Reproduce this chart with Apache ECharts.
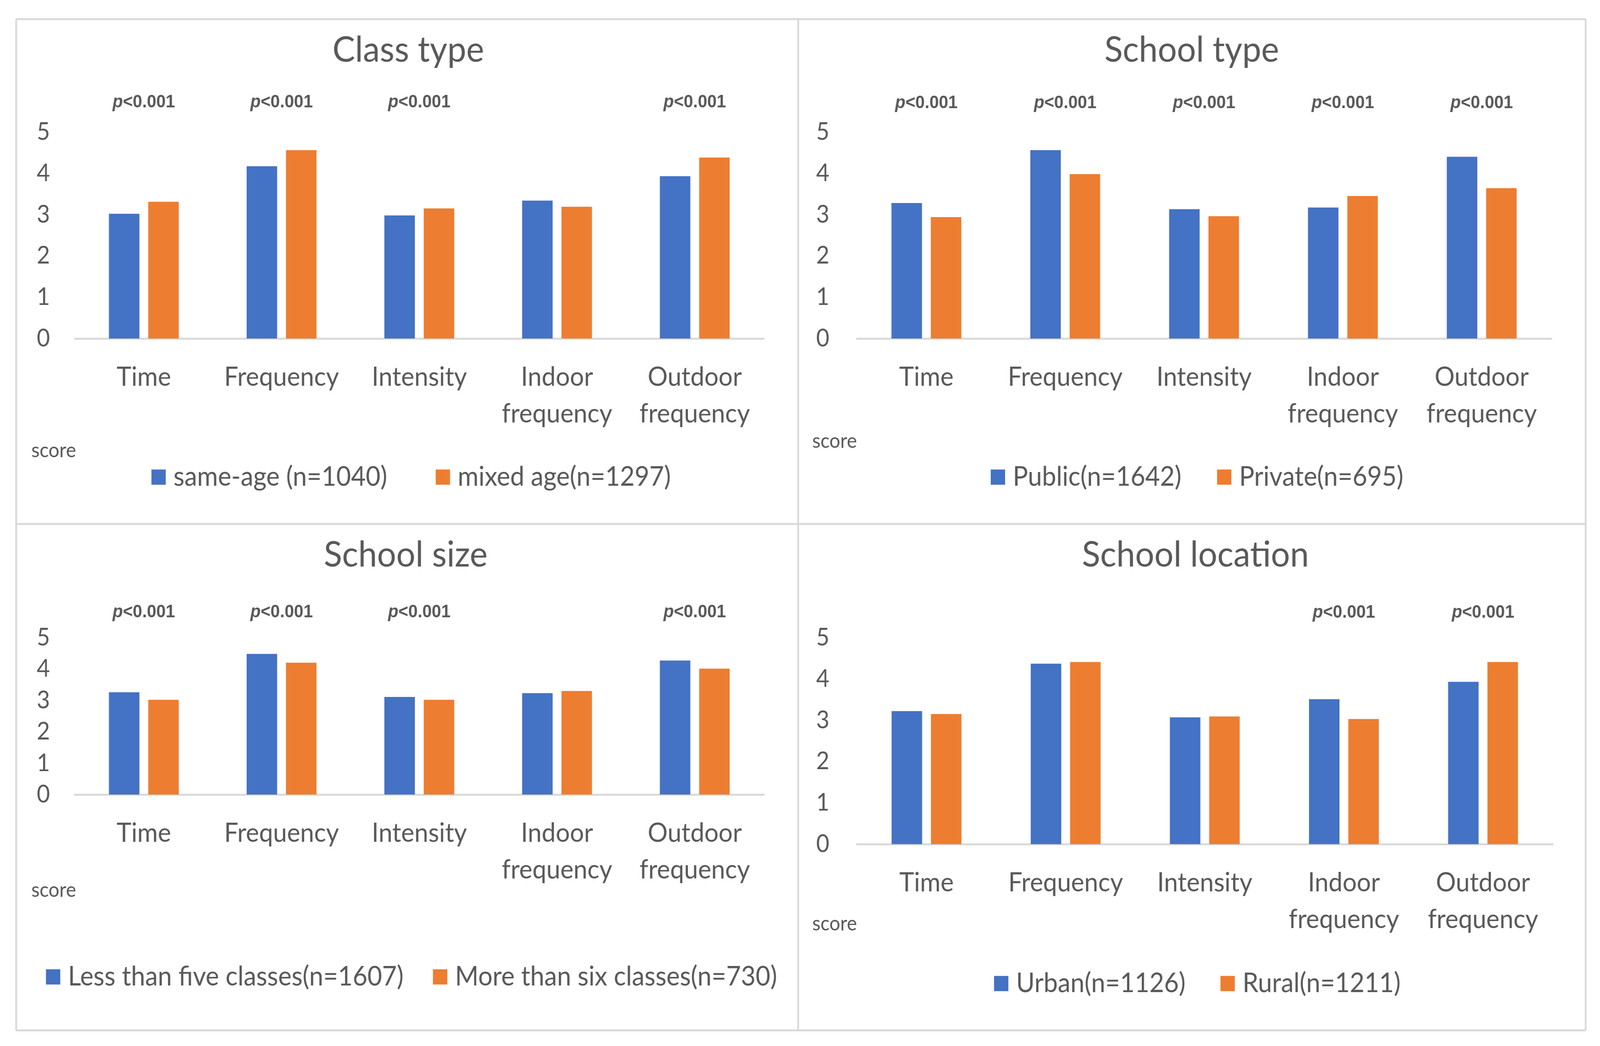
<!DOCTYPE html>
<html>
<head>
<meta charset="utf-8">
<style>
html,body{margin:0;padding:0;background:#fff;overflow:hidden;}
#wrap{position:absolute;left:0;top:0;width:4354px;height:2679px;transform-origin:0 0;}
#chart{width:4354px;height:2679px;}
</style>
<script src="https://cdn.jsdelivr.net/npm/echarts@6/dist/echarts.min.js"></script>
</head>
<body>
<div id="wrap"><div id="chart"></div></div>
<script>
// ---- data ----
const categories = ['Time', 'Frequency', 'Intensity', 'Indoor\nfrequency', 'Outdoor\nfrequency'];
const panelTitles = ['Class type', 'School type', 'School size', 'School location'];

const classNames = ['same-age (n=1040)', 'mixed age(n=1297)'];
const classSame = [3.02, 4.17, 2.98, 3.34, 3.93];
const classMixed = [3.31, 4.56, 3.15, 3.19, 4.38];

const typeNames = ['Public(n=1642)', 'Private(n=695)'];
const typePublic = [3.28, 4.56, 3.13, 3.17, 4.40];
const typePrivate = [2.94, 3.98, 2.96, 3.45, 3.64];

const sizeNames = ['Less than five classes(n=1607)', 'More than six classes(n=730)'];
const sizeLess = [3.26, 4.48, 3.11, 3.23, 4.27];
const sizeMore = [3.02, 4.20, 3.02, 3.30, 4.01];

const locNames = ['Urban(n=1126)', 'Rural(n=1211)'];
const locUrban = [3.22, 4.37, 3.07, 3.51, 3.93];
const locRural = [3.15, 4.41, 3.09, 3.03, 4.41];

const pClass = ['p<0.001', 'p<0.001', 'p<0.001', '', 'p<0.001'];
const pType = ['p<0.001', 'p<0.001', 'p<0.001', 'p<0.001', 'p<0.001'];
const pSize = ['p<0.001', 'p<0.001', 'p<0.001', '', 'p<0.001'];
const pLoc = ['', '', '', 'p<0.001', 'p<0.001'];

const yTicks = [0, 1, 2, 3, 4, 5];
const axisTitle = 'score';

// ---- fit the 4354 x 2679 design into the actual viewport ----
const W = 4354, H = 2679;
const vw = window.innerWidth || W, vh = window.innerHeight || H;
document.getElementById('wrap').style.transform = 'scale(' + (vw / W) + ',' + (vh / H) + ')';

const FONT = 'Lato';
const PFONT = 'Liberation Sans';
const TXT = '#595959';
const BLUE = '#4472C4';
const ORANGE = '#ED7D31';
const LINE = '#D9D9D9';

const panels = [
  {names: classNames, a: classSame, b: classMixed, p: pClass,
   grid: {left: 204, top: 338, width: 1874, height: 529},
   title: [1111, 128], score: [146, 1154], legend: [412, 1222], legendGap: 132, pMargin: 53, yMargin: 68},
  {names: typeNames, a: typePublic, b: typePrivate, p: pType,
   grid: {left: 2332, top: 338, width: 1889, height: 529},
   title: [3243, 128], score: [2271, 1130], legend: [2696, 1222], legendGap: 97, pMargin: 51, yMargin: 75},
  {names: sizeNames, a: sizeLess, b: sizeMore, p: pSize,
   grid: {left: 204, top: 1633, width: 1874, height: 402},
   title: [1104, 1421], score: [146, 2280], legend: [125, 2502], legendGap: 80, pMargin: 42, yMargin: 68},
  {names: locNames, a: locUrban, b: locRural, p: pLoc,
   grid: {left: 2332, top: 1633, width: 1893, height: 529},
   title: [3253, 1421], score: [2271, 2366], legend: [2705, 2519], legendGap: 95, pMargin: 41, yMargin: 75}
];

const option = {
  animation: false,
  backgroundColor: '#fff',
  textStyle: {fontFamily: FONT},
  title: [], legend: [], grid: [], xAxis: [], yAxis: [], series: [], graphic: []
};

panels.forEach((pn, i) => {
  option.grid.push(pn.grid);
  option.title.push({
    text: panelTitles[i], left: pn.title[0], top: pn.title[1] - 50, textAlign: 'center', padding: 0,
    textStyle: {fontFamily: FONT, fontSize: 92, fontWeight: 'normal', color: TXT, lineHeight: 100}
  });
  option.title.push({
    text: axisTitle, left: pn.score[0], top: pn.score[1] - 30, textAlign: 'center', padding: 0,
    textStyle: {fontFamily: FONT, fontSize: 52, fontWeight: 'normal', color: TXT, lineHeight: 60}
  });
  option.legend.push({
    data: pn.names, left: pn.legend[0], top: pn.legend[1] - 37, padding: 0,
    itemWidth: 39, itemHeight: 39, itemGap: pn.legendGap, icon: 'rect',
    textStyle: {fontFamily: FONT, fontSize: 69, color: TXT, lineHeight: 74, padding: [0, 0, 0, 16]}
  });
  option.xAxis.push({
    type: 'category', gridIndex: i, data: categories, position: 'bottom',
    axisLine: {show: true, lineStyle: {color: LINE, width: 5}},
    axisTick: {show: false},
    axisLabel: {interval: 0, margin: 52, fontFamily: FONT, fontSize: 68, lineHeight: 94, color: TXT}
  });
  option.yAxis.push({
    type: 'value', gridIndex: i, min: yTicks[0], max: yTicks[yTicks.length - 1], interval: 1,
    axisLine: {show: false}, axisTick: {show: false}, splitLine: {show: false},
    axisLabel: {margin: pn.yMargin, fontFamily: FONT, fontSize: 62, color: TXT}
  });
  option.series.push({
    name: pn.names[0], type: 'bar', xAxisIndex: i, yAxisIndex: i, data: pn.a,
    barWidth: 83, barGap: '29%', itemStyle: {color: BLUE}
  });
  option.series.push({
    name: pn.names[1], type: 'bar', xAxisIndex: i, yAxisIndex: i, data: pn.b,
    barWidth: 83, barGap: '29%', itemStyle: {color: ORANGE}
  });
});

// top axes carrying the significance labels
panels.forEach((pn, i) => {
  option.xAxis.push({
    type: 'category', gridIndex: i, data: pn.p, position: 'top',
    axisLine: {show: false}, axisTick: {show: false},
    axisLabel: {
      interval: 0, margin: pn.pMargin,
      formatter: v => v ? '{i|p}{n|' + v.slice(1) + '}' : '',
      rich: {
        i: {fontFamily: PFONT, fontSize: 46, fontStyle: 'italic', fontWeight: 'bold', color: TXT},
        n: {fontFamily: PFONT, fontSize: 46, fontWeight: 'bold', color: TXT}
      }
    }
  });
});

// panel frame lines
const hLines = [49, 1342, 2639];
const vLines = [44, 2172, 4315];
hLines.forEach(y => option.graphic.push({type: 'line', shape: {x1: 44, y1: y, x2: 4315, y2: y}, style: {stroke: LINE, lineWidth: 5}, silent: true}));
vLines.forEach(x => option.graphic.push({type: 'line', shape: {x1: x, y1: 49, x2: x, y2: 2639}, style: {stroke: LINE, lineWidth: 5}, silent: true}));

const chart = echarts.init(document.getElementById('chart'));
chart.setOption(option);
</script>
</body>
</html>
